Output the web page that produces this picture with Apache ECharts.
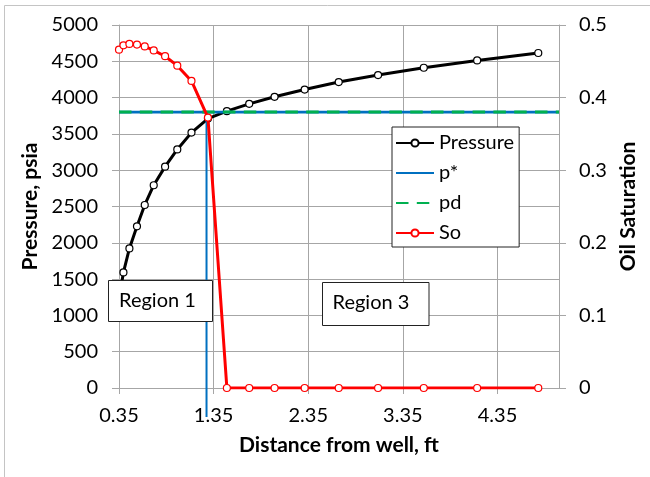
<!DOCTYPE html>
<html><head><meta charset="utf-8">
<script src="https://cdn.jsdelivr.net/npm/echarts@6/dist/echarts.min.js"></script>
<style>html,body{margin:0;padding:0;background:#fff}#c{width:650px;height:477px}</style>
</head><body><div id="c"></div>
<script>
// ---- data ----
const distance = [0.35, 0.397, 0.46, 0.54, 0.622, 0.717, 0.837, 0.966, 1.116, 1.29, 1.49, 1.726, 1.994, 2.312, 2.672, 3.088, 3.571, 4.135, 4.781];
const pressure = [1230, 1592, 1923, 2227, 2521, 2793, 3049, 3286, 3518, 3711, 3813, 3914, 4011, 4111, 4214, 4310, 4411, 4512, 4614];
const oilSat = [0.466, 0.472, 0.474, 0.473, 0.4705, 0.465, 0.457, 0.444, 0.423, 0.3725, 0, 0, 0, 0, 0, 0, 0, 0, 0];
const pStarX = [0.35, 5.0];
const pStarP = [3800, 3800];
const pStarDropX = [1.275, 1.275];
const pStarDropP = [3800, -400];
const pdX = [0.35, 5.0];
const pdP = [3800, 3800];
const xTicks = [0.35, 1.35, 2.35, 3.35, 4.35];
const regionNames = ['Region 1', 'Region 3'];
const seriesNames = ['Pressure', 'p*', 'pd', 'So'];

const zip = (a, b) => a.map((v, i) => [v, b[i]]);
const FONT = 'Lato';
const GRID = '#a6a6a6';

const chart = echarts.init(document.getElementById('c'), null, {renderer: 'canvas'});
chart.setOption({
  animation: false,
  backgroundColor: '#fff',
  textStyle: {fontFamily: FONT, color: '#000'},
  grid: {left: 119, right: 91, top: 25, bottom: 89},
  legend: {
    orient: 'vertical', left: 392, top: 127,
    backgroundColor: '#fff', borderColor: '#222', borderWidth: 1,
    padding: [6, 5, 4, 3],
    itemWidth: 38, itemHeight: 9, itemGap: 10, itemTextGap: 4,
    textStyle: {fontFamily: FONT, fontSize: 20, color: '#000', lineHeight: 20},
    data: [
      {name: seriesNames[0]},
      {name: seriesNames[1], itemStyle: {opacity: 0}},
      {name: seriesNames[2], itemStyle: {opacity: 0}},
      {name: seriesNames[3]}
    ]
  },
  xAxis: {
    type: 'value', min: 0.35, max: 5.0, interval: 1,
    name: 'Distance from well, ft', nameLocation: 'middle', nameGap: 47,
    nameTextStyle: {fontFamily: FONT, fontSize: 21, fontWeight: 'bold', color: '#000'},
    axisLine: {show: true, onZero: false, lineStyle: {color: GRID, width: 1}},
    axisTick: {show: true, length: 6, customValues: xTicks, lineStyle: {color: GRID}},
    axisLabel: {customValues: xTicks, fontSize: 20, color: '#000', margin: 18, fontFamily: FONT,
      formatter: v => v.toFixed(2)},
    splitLine: {show: true, lineStyle: {color: GRID, width: 1}}
  },
  yAxis: [{
    type: 'value', min: 0, max: 5000, interval: 500, position: 'left',
    name: 'Pressure, psia', nameLocation: 'middle', nameGap: 67,
    nameTextStyle: {fontFamily: FONT, fontSize: 21, fontWeight: 'bold', color: '#000'},
    axisLine: {show: true, onZero: false, lineStyle: {color: GRID, width: 1}},
    axisTick: {show: true, length: 7, lineStyle: {color: GRID}},
    axisLabel: {fontSize: 20, color: '#000', margin: 21, fontFamily: FONT,
      formatter: v => String(Math.round(v))},
    splitLine: {show: true, lineStyle: {color: GRID, width: 1}}
  }, {
    type: 'value', min: 0, max: 0.5, interval: 0.1, position: 'right',
    name: 'Oil Saturation', nameLocation: 'middle', nameGap: 57,
    nameTextStyle: {fontFamily: FONT, fontSize: 21, fontWeight: 'bold', color: '#000'},
    axisLine: {show: true, onZero: false, lineStyle: {color: GRID, width: 1}},
    axisTick: {show: true, length: 7, lineStyle: {color: GRID}},
    axisLabel: {fontSize: 20, color: '#000', margin: 20, fontFamily: FONT,
      formatter: v => (Math.abs(v) < 1e-9 ? '0' : v.toFixed(1))},
    splitLine: {show: false}
  }],
  series: [{
    name: seriesNames[0], type: 'line', yAxisIndex: 0,
    data: zip(distance, pressure),
    symbol: 'circle', symbolSize: 7,
    lineStyle: {color: '#000', width: 3},
    itemStyle: {color: '#fff', borderColor: '#000', borderWidth: 1.2},
    z: 2
  }, {
    name: seriesNames[1], type: 'line', yAxisIndex: 0,
    data: zip(pStarX, pStarP), symbol: 'none',
    lineStyle: {color: '#0070C0', width: 2.6},
    itemStyle: {color: '#0070C0'},
    z: 3
  }, {
    name: seriesNames[1], type: 'line', yAxisIndex: 0, clip: false,
    data: zip(pStarDropX, pStarDropP), symbol: 'none',
    lineStyle: {color: '#0070C0', width: 2},
    itemStyle: {color: '#0070C0'},
    z: 3
  }, {
    name: seriesNames[2], type: 'line', yAxisIndex: 0,
    data: zip(pdX, pdP), symbol: 'none',
    lineStyle: {color: '#00B050', width: 3, type: [12.5, 8.3]},
    itemStyle: {color: '#00B050'},
    z: 4
  }, {
    name: seriesNames[3], type: 'line', yAxisIndex: 1,
    data: zip(distance, oilSat),
    symbol: 'circle', symbolSize: 7,
    lineStyle: {color: '#ff0000', width: 3},
    itemStyle: {color: '#fff', borderColor: '#ff0000', borderWidth: 1.2},
    z: 5
  }],
  graphic: [
    {type: 'rect', z: 0, silent: true, shape: {x: 4.5, y: 5.5, width: 700, height: 600},
      style: {fill: null, stroke: '#c4c4c4', lineWidth: 1}},
    {type: 'group', z: 100, children: [
      {type: 'rect', shape: {x: 108.5, y: 280.5, width: 104, height: 41}, z: 100,
        style: {fill: '#fff', stroke: '#222', lineWidth: 1}},
      {type: 'text', x: 119, y: 300.5, z: 101,
        style: {text: regionNames[0], font: '20px Lato', fill: '#000', textVerticalAlign: 'middle', verticalAlign: 'middle'}}
    ]},
    {type: 'group', z: 100, children: [
      {type: 'rect', shape: {x: 322.5, y: 282.5, width: 106.5, height: 43}, z: 100,
        style: {fill: '#fff', stroke: '#222', lineWidth: 1}},
      {type: 'text', x: 332.5, y: 303, z: 101,
        style: {text: regionNames[1], font: '20px Lato', fill: '#000', textVerticalAlign: 'middle', verticalAlign: 'middle'}}
    ]}
  ]
});
</script>
</body></html>
